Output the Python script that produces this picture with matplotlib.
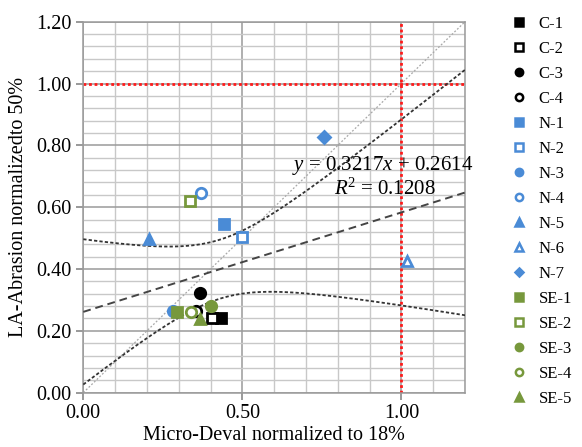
import numpy as np
import matplotlib.pyplot as plt
from matplotlib.lines import Line2D

plt.rcParams['font.family'] = 'Liberation Serif'
plt.rcParams['mathtext.fontset'] = 'custom'
plt.rcParams['mathtext.rm'] = 'Liberation Serif'
plt.rcParams['mathtext.it'] = 'Liberation Serif:italic'

# data
labels = ['C-1', 'C-2', 'C-3', 'C-4', 'N-1', 'N-2', 'N-3', 'N-4',
          'N-5', 'N-6', 'N-7', 'SE-1', 'SE-2', 'SE-3', 'SE-4', 'SE-5']
micro_deval = [0.434, 0.403, 0.368, 0.353, 0.442, 0.500, 0.282, 0.371,
               0.207, 1.018, 0.756, 0.293, 0.335, 0.400, 0.340, 0.368]
la_abrasion = [0.241, 0.241, 0.321, 0.263, 0.544, 0.502, 0.265, 0.647,
               0.497, 0.425, 0.827, 0.261, 0.620, 0.281, 0.260, 0.239]
slope, intercept, r2 = 0.3217, 0.2614, 0.1208

black = '#000000'
blue = '#4a8bd6'
green = '#77983c'
styles = {
    'C-1': (black, 's', True), 'C-2': (black, 's', False),
    'C-3': (black, 'o', True), 'C-4': (black, 'o', False),
    'N-1': (blue, 's', True), 'N-2': (blue, 's', False),
    'N-3': (blue, 'o', True), 'N-4': (blue, 'o', False),
    'N-5': (blue, '^', True), 'N-6': (blue, '^', False),
    'N-7': (blue, 'D', True),
    'SE-1': (green, 's', True), 'SE-2': (green, 's', False),
    'SE-3': (green, 'o', True), 'SE-4': (green, 'o', False),
    'SE-5': (green, '^', True),
}

fig = plt.figure(figsize=(5.82, 4.47), dpi=100)
ax = fig.add_axes([0.1431, 0.1215, 0.656, 0.830])

x = np.array(micro_deval)
y = np.array(la_abrasion)
n = len(x)

# regression line and 95% confidence band
xs = np.linspace(0, 1.2, 300)
fit = slope * xs + intercept
resid = y - (slope * x + intercept)
s = np.sqrt(np.sum(resid ** 2) / (n - 2))
sxx = np.sum((x - x.mean()) ** 2)
half = 2.145 * s * np.sqrt(1 / n + (xs - x.mean()) ** 2 / sxx)

ax.plot([0, 1.2], [0, 1.2], color='#a8a8a8', lw=0.9, ls=(0, (1.5, 1.5)), zorder=2)
ax.plot(xs, fit, color='#444444', lw=1.4, ls=(0, (4, 2.5)), zorder=3)
ax.plot(xs, fit + half, color='#333333', lw=1.3, ls=(0, (1.8, 1.2)), zorder=3)
ax.plot(xs, fit - half, color='#333333', lw=1.3, ls=(0, (1.8, 1.2)), zorder=3)

ax.axhline(1.0, color='#ff1a1a', lw=2, ls=(0, (1, 1)), zorder=2)
ax.axvline(1.0, color='#ff1a1a', lw=2, ls=(0, (1, 1)), zorder=2)

handles = []
for lab, xi, yi in zip(labels, micro_deval, la_abrasion):
    c, m, filled = styles[lab]
    ms = 6 if m == 'D' else 7.5
    ax.plot(xi, yi, marker=m, ms=ms, ls='none', mec=c, mew=2,
            mfc=c if filled else 'white', zorder=5)
    handles.append(Line2D([], [], marker=m, ms=ms * 0.7, ls='none', mec=c, mew=1.8,
                          mfc=c if filled else 'white', label=lab))

ax.set_xlim(0, 1.2)
ax.set_ylim(0, 1.2)
ax.set_xticks([0, 0.5, 1.0])
ax.set_xticks(np.arange(0, 1.21, 0.1), minor=True)
ax.set_yticks(np.arange(0, 1.21, 0.2))
ax.set_yticks(np.arange(0, 1.21, 0.04), minor=True)
ax.xaxis.set_major_formatter(lambda v, p: f'{v:.2f}')
ax.yaxis.set_major_formatter(lambda v, p: f'{v:.2f}')
ax.grid(True, which='major', color='#9a9a9a', lw=1.1)
ax.grid(True, which='minor', color='#c8c8c8', lw=1.0)
ax.set_axisbelow(True)
ax.tick_params(which='major', labelsize=14.5, color='#888888', length=5, width=1.2)
ax.tick_params(which='minor', length=0)
for sp in ax.spines.values():
    sp.set_color('#9a9a9a')
    sp.set_linewidth(1.1)

ax.set_xlabel('Micro-Deval normalized to 18%', fontsize=14.5, labelpad=2)
ax.set_ylabel('LA-Abrasion normalizedto 50%', fontsize=14.5, labelpad=6)

ax.text(0.657, 0.72, f'$y$ = {slope:.4f}$x$ + {intercept:.4f}', fontsize=15,
        clip_on=False, zorder=4)
ax.text(0.787, 0.64, f'$R$$^2$ = {r2:.4f}', fontsize=15, clip_on=False, zorder=4)

fig.legend(handles=handles, loc='upper left', bbox_to_anchor=(0.880, 0.964),
           frameon=False, fontsize=12, handlelength=0.8, handletextpad=0.78,
           labelspacing=0.54, borderaxespad=0, borderpad=0)

fig.savefig('out.png', dpi=100)
